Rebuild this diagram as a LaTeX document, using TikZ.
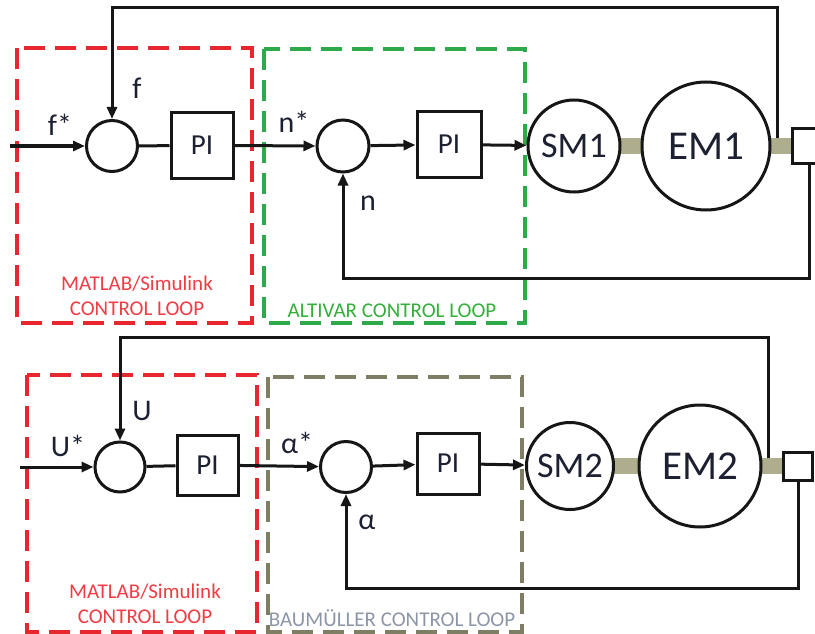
\documentclass[tikz,border=0pt]{standalone}
\usepackage{fontspec}
\setmainfont{Carlito}
\usetikzlibrary{arrows.meta,backgrounds,positioning}
\definecolor{LoopRed}{HTML}{E8262E}
\definecolor{LoopRedText}{HTML}{F03C44}
\definecolor{LoopGreen}{HTML}{2DAA4C}
\definecolor{LoopGreenText}{HTML}{35AE3C}
\definecolor{LoopOlive}{HTML}{7E7E64}
\definecolor{LoopGreyText}{HTML}{8C96A6}
\definecolor{ShaftOlive}{HTML}{AEAD8E}
\definecolor{LabelInk}{HTML}{1C2030}
\definecolor{WireInk}{HTML}{161616}
\tikzset{
  wire/.style={line width=3pt,draw=WireInk},
  sig/.style={wire,-{Triangle[length=12pt,width=10pt]}},
  shaft/.style={line width=16.5pt,draw=ShaftOlive},
  sumnode/.style={circle,draw=WireInk,line width=3pt,fill=white,inner sep=0pt},
  pibox/.style={draw=WireInk,line width=3pt,fill=white,inner sep=0pt,text=LabelInk,font=\fontsize{29}{29}\selectfont},
  machine/.style={circle,draw=WireInk,line width=3pt,fill=white,inner sep=0pt,text=LabelInk},
  encoder/.style={draw=WireInk,line width=3pt,fill=white,inner sep=0pt},
  sglabel/.style={inner sep=0pt,text=LabelInk,font=\fontsize{30}{30}\selectfont},
  loopbox/.style={line width=3.1pt,dash pattern=on 21pt off 10pt},
  looptext/.style={inner sep=0pt,align=center,font=\fontsize{21}{24.5}\selectfont}
}
\begin{document}
\begin{tikzpicture}[x=1pt,y=-1pt]
  \useasboundingbox (0,0) rectangle (815,634);
  \clip (0,0) rectangle (815,634);
  % control loop frames
  \draw[loopbox,draw=LoopRed] (17,48) rectangle (252,323);
  \draw[loopbox,draw=LoopGreen] (264,49) rectangle (525,323);
  \draw[loopbox,draw=LoopRed] (27,375) rectangle (257,632);
  \draw[loopbox,draw=LoopOlive] (268,377) rectangle (522,632);
  \node[looptext,text=LoopRedText] (txtSimA) at (137,296) {MATLAB/Simulink\\CONTROL LOOP};
  \node[looptext,text=LoopGreenText] (txtAltivar) at (392,311) {ALTIVAR CONTROL LOOP};
  \node[looptext,text=LoopRedText] (txtSimB) at (145,604) {MATLAB/Simulink\\CONTROL LOOP};
  \node[looptext,text=LoopGreyText] (txtBaum) at (392,618) {BAUMÜLLER CONTROL LOOP};

  % upper drive: f and n loops
  \node[sumnode,minimum size=51pt] (sumF) at (112,146) {};
  \node[pibox,minimum width=62pt,minimum height=65pt] (piF) at (202,145.5) {PI};
  \node[sumnode,minimum size=52pt] (sumN) at (343,146) {};
  \node[pibox,minimum width=64pt,minimum height=65pt] (piN) at (449,144.5) {PI};
  \node[machine,minimum size=92pt,font=\fontsize{36}{36}\selectfont] (sm1) at (574,146) {SM1};
  \node[machine,minimum size=128pt,font=\fontsize{41}{41}\selectfont] (em1) at (706,146) {EM1};
  \node[encoder,minimum width=34pt,minimum height=34pt] (encF) at (809,146) {};
  \node[sglabel] (lblFstar) at (60,125) {f*};
  \node[sglabel] (lblF) at (137,88) {f};
  \node[sglabel] (lblNstar) at (294,122) {n*};
  \node[sglabel] (lblN) at (368,203) {n};

  \coordinate (inF) at (10,146);
  \coordinate (tapF) at (777,138);
  \coordinate (topF) at (112,8);
  \coordinate (loopN) at (343,278);
  \draw[sig] (inF) -- (sumF);
  \draw[wire] (sumF) -- (piF);
  \draw[sig] (piF) -- (sumN);
  \draw[sig] (sumN) -- (piN);
  \draw[sig] (piN) -- (sm1);
  \draw[sig] (tapF) |- (topF) -- (sumF);
  \draw[sig] (encF.south) |- (loopN) -- (sumN);

  % lower drive: U and alpha loops
  \node[sumnode,minimum size=50pt] (sumU) at (120,467) {};
  \node[pibox,minimum width=61pt,minimum height=60pt] (piU) at (207.5,465) {PI};
  \node[sumnode,minimum size=51pt] (sumA) at (346,467) {};
  \node[pibox,minimum width=62pt,minimum height=61pt] (piA) at (448,463.5) {PI};
  \node[machine,minimum size=87pt,font=\fontsize{36}{36}\selectfont] (sm2) at (570,466) {SM2};
  \node[machine,minimum size=122pt,font=\fontsize{41}{41}\selectfont] (em2) at (700,466) {EM2};
  \node[encoder,minimum width=29pt,minimum height=28pt] (encU) at (798,466) {};
  \node[sglabel] (lblUstar) at (68,446) {U*};
  \node[sglabel] (lblU) at (142,411) {U};
  \node[sglabel] (lblAstar) at (297,443) {α*};
  \node[sglabel] (lblA) at (367,522) {α};

  \coordinate (inU) at (20,467);
  \coordinate (tapU) at (768,458);
  \coordinate (topU) at (120,337);
  \coordinate (loopA) at (346,588);
  \draw[sig] (inU) -- (sumU);
  \draw[wire] (sumU) -- (piU);
  \draw[sig] (piU) -- (sumA);
  \draw[sig] (sumA) -- (piA);
  \draw[sig] (piA) -- (sm2);
  \draw[sig] (tapU) |- (topU) -- (sumU);
  \draw[sig] (encU.south) |- (loopA) -- (sumA);

  % shafts behind the machines
  \begin{scope}[on background layer]
    \draw[shaft] (sm1.center) -- (em1.center);
    \draw[shaft] (em1.center) -- (encF.center);
    \draw[shaft] (sm2.center) -- (em2.center);
    \draw[shaft] (em2.center) -- (encU.center);
  \end{scope}
\end{tikzpicture}
\end{document}
